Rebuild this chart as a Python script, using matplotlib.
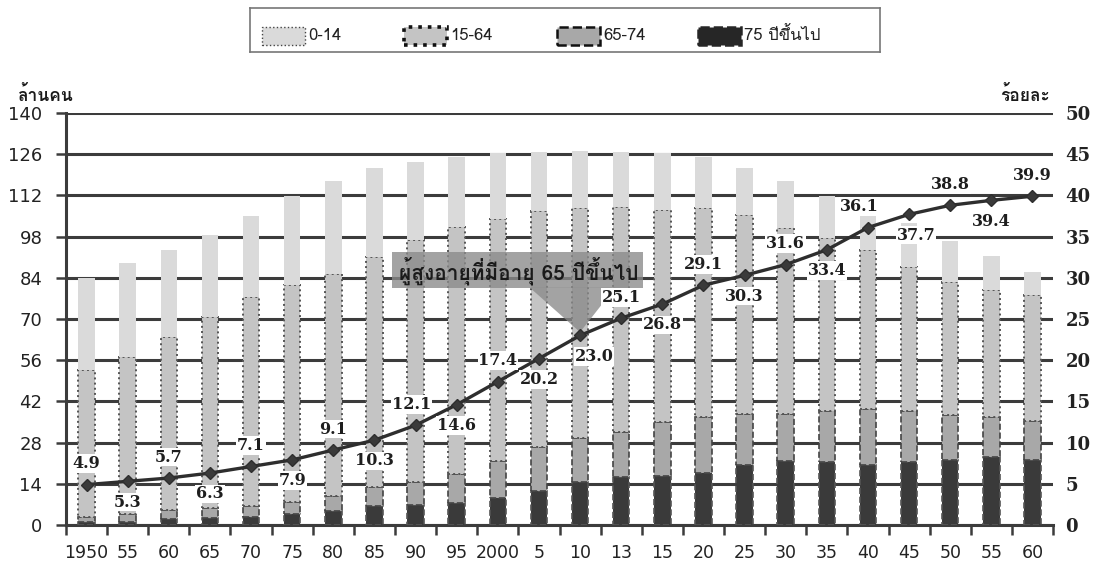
import matplotlib
matplotlib.use("Agg")
import matplotlib.pyplot as plt
from matplotlib import font_manager
from matplotlib.ft2font import FT2Font
from matplotlib.patches import Polygon, Rectangle

# population by age group (million) and share aged 65+ (%)
years = ["1950", "55", "60", "65", "70", "75", "80", "85", "90", "95", "2000", "5",
         "10", "13", "15", "20", "25", "30", "35", "40", "45", "50", "55", "60"]
age_0_14 = [31.2, 32.1, 29.8, 28.0, 27.5, 30.5, 31.6, 30.2, 26.4, 23.6, 22.2, 20.2,
            19.5, 18.8, 19.2, 17.3, 16.0, 16.2, 14.3, 14.3, 14.7, 13.9, 11.6, 7.9]
age_15_64 = [50.0, 53.1, 58.7, 64.7, 71.1, 73.5, 75.5, 78.1, 82.4, 84.1, 82.4, 80.2,
             78.1, 76.4, 72.1, 71.1, 67.7, 63.0, 58.8, 54.1, 49.2, 45.3, 43.1, 42.9]
age_65_74 = [1.9, 2.8, 3.1, 3.6, 3.7, 4.0, 5.2, 6.6, 7.8, 9.8, 12.5, 15.0,
             15.1, 15.5, 18.4, 18.9, 17.2, 16.0, 17.1, 18.8, 17.1, 15.1, 13.6, 13.0]
age_75 = [0.9, 1.1, 2.0, 2.3, 2.8, 3.9, 4.7, 6.3, 6.8, 7.5, 9.2, 11.5,
          14.5, 16.2, 16.6, 17.7, 20.4, 21.8, 21.5, 20.5, 21.5, 22.2, 23.1, 22.2]
aging_rate = [4.9, 5.3, 5.7, 6.3, 7.1, 7.9, 9.1, 10.3, 12.1, 14.6, 17.4, 20.2,
              23.0, 25.1, 26.8, 29.1, 30.3, 31.6, 33.4, 36.1, 37.7, 38.8, 39.4, 39.9]
# value label above (1) or below (-1) the point, plus a sideways nudge in points
label_side = [1, -1, 1, -1, 1, -1, 1, -1, 1, -1, 1, -1,
              -1, 1, -1, 1, -1, 1, -1, 1, -1, 1, -1, 1]
label_dx = [0, 0, 0, 0, 0, 0, 0, 0, -3, 0, 0, 0,
            10, 0, 0, 0, 0, 0, 0, -6, 5, 0, 0, 0]


def thai_font():
    for f in font_manager.fontManager.ttflist:
        try:
            if FT2Font(f.fname).get_char_index(ord("ก")):
                return f.name
        except Exception:
            pass
    return None


tf = thai_font()
fams = ([tf] if tf else []) + ["DejaVu Sans"]
plt.rcParams["font.family"] = ["DejaVu Sans"] + ([tf] if tf else [])

fig = plt.figure(figsize=(10.96, 5.78), dpi=100)
ax = fig.add_axes([0.0602, 0.0917, 0.9006, 0.7128])
ax2 = ax.twinx()

x = list(range(len(years)))
w = 0.4
b1 = age_75
b2 = [a + b for a, b in zip(b1, age_65_74)]
b3 = [a + b for a, b in zip(b2, age_15_64)]

ax.bar(x, age_75, w, color="#3a3a3a", edgecolor="#555555", linestyle="--", linewidth=1.2, zorder=3)
ax.bar(x, age_65_74, w, bottom=b1, color="#a8a8a8", edgecolor="#444444", linestyle="--", linewidth=1.2, zorder=3)
ax.bar(x, age_15_64, w, bottom=b2, color="#c4c4c4", edgecolor="#555555", linestyle=":", linewidth=1.4, zorder=3)
ax.bar(x, age_0_14, w, bottom=b3, color="#dadada", edgecolor="none", zorder=3)

ax.set_xlim(-0.5, len(years) - 0.5)
ax.set_ylim(0, 140)
ax.set_yticks(range(0, 141, 14))
ax.yaxis.grid(True, color="#3c3c3c", linewidth=2.2)
ax.set_axisbelow(True)
ax.set_xticks(x)
ax.set_xticklabels(years, fontsize=12.5, color="#222222")
ax.set_xticks([i - 0.5 for i in range(len(years) + 1)], minor=True)
ax.tick_params(axis="x", which="major", length=0, pad=14)
ax.tick_params(axis="x", which="minor", length=7, width=1.8, color="#3c3c3c", direction="out")
ax.tick_params(axis="y", length=7, width=1.8, color="#3c3c3c", labelsize=13, labelcolor="#222222", pad=10)
for s in ["top", "right"]:
    ax.spines[s].set_visible(False)
for s in ["left", "bottom"]:
    ax.spines[s].set_color("#3c3c3c")
    ax.spines[s].set_linewidth(2.2)

ax2.set_ylim(0, 50)
ax2.set_yticks(range(0, 51, 5))
ax2.tick_params(axis="y", length=0, labelsize=13, pad=9)
for lab in ax2.get_yticklabels():
    lab.set_fontweight("bold")
    lab.set_family(["DejaVu Serif"])
    lab.set_color("#222222")
for s in ax2.spines.values():
    s.set_visible(False)

ax2.plot(x, aging_rate, color="#2e2e2e", linewidth=2.4, marker="D", markersize=6,
         markerfacecolor="#3a3a3a", markeredgecolor="#2e2e2e", zorder=5)
for i, v in enumerate(aging_rate):
    ax2.annotate(f"{v:.1f}", (i, v), xytext=(label_dx[i], 15 * label_side[i]), textcoords="offset points",
                 ha="center", va="center", fontsize=11.5, fontweight="bold", color="#1e1e1e",
                 family=["DejaVu Serif"], zorder=6,
                 bbox=dict(boxstyle="square,pad=0.05", facecolor="white", edgecolor="none"))

# callout box pointing at 2010
ax2.add_patch(Rectangle((7.43, 28.8), 6.1, 4.3, facecolor="#8a8a8a", alpha=0.78, edgecolor="none", zorder=4))
ax2.add_patch(Polygon([(10.78, 28.8), (12.85, 28.8), (12.0, aging_rate[12] + 0.4)], closed=True,
                      facecolor="#8a8a8a", alpha=0.78, edgecolor="none", zorder=4))
ax2.text(10.5, 30.9, "ผู้สูงอายุที่มีอายุ 65 ปีขึ้นไป", ha="center", va="center", fontsize=15,
         fontweight="bold", color="#1a1a1a", family=fams, zorder=6)

fig.text(0.016, 0.825, "ล้านคน", fontsize=12.5, fontweight="bold", family=fams, color="#1a1a1a")
fig.text(0.958, 0.825, "ร้อยละ", fontsize=12.5, fontweight="bold", family=fams, color="#1a1a1a", ha="right")

# legend
lg = fig.add_axes([0.228, 0.91, 0.575, 0.077])
lg.set_xlim(0, 630)
lg.set_ylim(0, 44)
lg.set_xticks([])
lg.set_yticks([])
for s in lg.spines.values():
    s.set_color("#777777")
    s.set_linewidth(1.2)
items = [(12, "#dadada", "#444444", ":", 1.0, "0-14"),
         (154, "#c4c4c4", "#111111", ":", 2.6, "15-64"),
         (307, "#a8a8a8", "#111111", "--", 1.8, "65-74"),
         (448, "#262626", "#262626", "--", 1.8, "75 ปีขึ้นไป")]
for x0, fc, ec, ls, lw, name in items:
    lg.add_patch(Rectangle((x0, 7), 43, 18, facecolor=fc, edgecolor=ec, linestyle=ls, linewidth=lw))
    lg.text(x0 + 46, 16, name, va="center", fontsize=12, family=fams, color="#222222")

fig.savefig("out.png", dpi=100)
